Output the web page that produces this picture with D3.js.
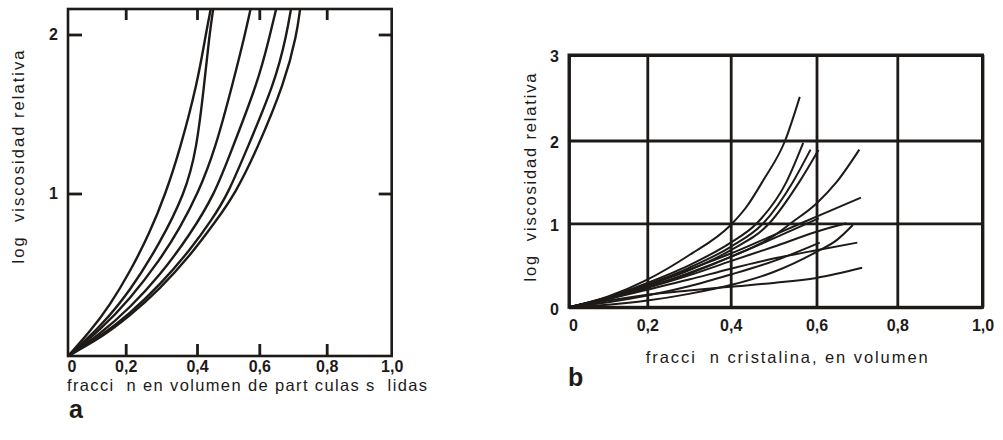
<!DOCTYPE html>
<html>
<head>
<meta charset="utf-8">
<script src="https://cdn.jsdelivr.net/npm/d3@7"></script>
<style>
  html, body { margin: 0; padding: 0; background: #fff; }
  svg { display: block; font-family: "Liberation Sans", Arial, sans-serif; }
  text { white-space: pre; fill: #1d1a18; }
</style>
</head>
<body>
<svg id="chart" width="1003" height="440"></svg>
<script>
// ---- panel a: relative viscosity vs solid particle volume fraction ----
const tickValuesA = [0, 0.2, 0.4, 0.6, 0.8, 1.0];
const yTicksA = [1, 2];
const xTitleA = "fracci  n en volumen de part culas s  lidas";
const yTitle = "log  viscosidad relativa";
const curvesA = [
  [[0,0],[0.076,0.149],[0.146,0.315],[0.212,0.518],[0.268,0.760],[0.312,1.0],[0.352,1.274],[0.402,1.701],[0.428,2.0],[0.444,2.16]],
  [[0,0],[0.111,0.177],[0.212,0.399],[0.296,0.694],[0.366,1.0],[0.399,1.274],[0.424,1.701],[0.440,2.0],[0.452,2.16]],
  [[0,0],[0.111,0.158],[0.212,0.351],[0.296,0.591],[0.352,0.788],[0.403,1.0],[0.458,1.274],[0.516,1.701],[0.554,2.0],[0.572,2.16]],
  [[0,0],[0.111,0.134],[0.212,0.297],[0.296,0.496],[0.380,0.745],[0.458,1.0],[0.511,1.274],[0.596,1.701],[0.632,2.0],[0.650,2.16]],
  [[0,0],[0.111,0.118],[0.212,0.262],[0.296,0.438],[0.380,0.650],[0.448,0.839],[0.500,1.0],[0.559,1.274],[0.647,1.701],[0.681,2.0],[0.694,2.16]],
  [[0,0],[0.111,0.108],[0.212,0.247],[0.296,0.413],[0.380,0.616],[0.458,0.823],[0.523,1.0],[0.592,1.274],[0.676,1.701],[0.711,2.0],[0.721,2.16]]
];

// ---- panel b: relative viscosity vs crystal volume fraction ----
const tickValuesB = [0, 0.2, 0.4, 0.6, 0.8, 1.0];
const yTicksB = [0, 1, 2, 3];
const xTitleB = "fracci  n cristalina, en volumen";
const curvesB = [
  [[0,0],[0.1,0.13],[0.2,0.33],[0.3,0.62],[0.4,0.98],[0.437,1.2],[0.476,1.52],[0.527,2.0],[0.561,2.51]],
  [[0,0],[0.1,0.12],[0.2,0.29],[0.3,0.5],[0.4,0.77],[0.461,1.0],[0.53,1.5],[0.569,1.97]],
  [[0,0],[0.1,0.11],[0.2,0.27],[0.3,0.47],[0.4,0.72],[0.476,1.0],[0.545,1.5],[0.586,1.89]],
  [[0,0],[0.1,0.11],[0.2,0.26],[0.3,0.44],[0.4,0.68],[0.49,1.0],[0.56,1.5],[0.605,1.885]],
  [[0,0],[0.1,0.1],[0.2,0.24],[0.3,0.4],[0.4,0.6],[0.5,0.85],[0.54,1.0],[0.6,1.24],[0.65,1.5],[0.706,1.89]],
  [[0,0],[0.1,0.12],[0.2,0.27],[0.3,0.45],[0.4,0.64],[0.5,0.86],[0.6,1.08],[0.71,1.31]],
  [[0,0],[0.1,0.03],[0.2,0.08],[0.3,0.16],[0.4,0.265],[0.5,0.42],[0.6,0.66],[0.65,0.8],[0.69,0.98]],
  [[0,0],[0.1,0.1],[0.2,0.21],[0.3,0.33],[0.4,0.46],[0.5,0.58],[0.6,0.68],[0.701,0.77]],
  [[0,0],[0.1,0.08],[0.2,0.15],[0.3,0.2],[0.4,0.245],[0.5,0.29],[0.6,0.35],[0.713,0.47]],
  [[0,0],[0.1,0.06],[0.2,0.14],[0.3,0.25],[0.4,0.39],[0.5,0.55],[0.608,0.77]],
  [[0,0],[0.1,0.11],[0.2,0.24],[0.3,0.41],[0.4,0.6],[0.5,0.82],[0.606,1.06]],
  [[0,0],[0.1,0.1],[0.2,0.23],[0.3,0.38],[0.4,0.55],[0.5,0.72],[0.6,0.9],[0.674,1.0]]
];

const ink = "#1d1a18";
const fmt = d => d.toFixed(1).replace(".", ",").replace(/^0,0$/, "0");
const svg = d3.select("#chart");

// ===== panel a =====
// hand-ruled axis: tick spacing is slightly uneven, so the scales are piecewise
const xa = d3.scaleLinear().domain(tickValuesA).range([68, 125.7, 197, 259.3, 326.7, 391.7]);
const ya = d3.scaleLinear().domain([0, 1, 2]).range([356, 193.5, 34.5]);
const topA = 9;
const gA = svg.append("g");

gA.append("clipPath").attr("id", "clipA")
  .append("rect").attr("x", xa(0)).attr("y", topA)
  .attr("width", xa(1) - xa(0)).attr("height", ya(0) - topA);

const lineA = d3.line().x(d => xa(d[0])).y(d => ya(d[1])).curve(d3.curveBasis);
gA.append("g").attr("clip-path", "url(#clipA)")
  .selectAll("path").data(curvesA).join("path")
  .attr("d", lineA).attr("fill", "none").attr("stroke", ink).attr("stroke-width", 2.4);

// inward ticks on all four sides
const inner = [0.2, 0.4, 0.6, 0.8];
const axBottomA = gA.append("g").attr("transform", `translate(0,${ya(0)})`)
  .call(d3.axisBottom(xa).tickValues(tickValuesA).tickSize(-12).tickPadding(5).tickFormat(fmt));
axBottomA.selectAll(".tick line").attr("display", d => inner.includes(d) ? null : "none");
gA.append("g").attr("transform", `translate(0,${topA})`)
  .call(d3.axisTop(xa).tickValues(inner).tickSize(-11).tickFormat(""));
gA.append("g").attr("transform", `translate(${xa(0)},0)`)
  .call(d3.axisLeft(ya).tickValues(yTicksA).tickSize(-14).tickPadding(10).tickFormat(d3.format("d")));
gA.append("g").attr("transform", `translate(${xa(1)},0)`)
  .call(d3.axisRight(ya).tickValues(yTicksA).tickSize(-13).tickFormat(""));

gA.append("rect").attr("x", xa(0)).attr("y", topA)
  .attr("width", xa(1) - xa(0)).attr("height", ya(0) - topA)
  .attr("fill", "none").attr("stroke", ink).attr("stroke-width", 2.6);

gA.append("text").attr("x", 67).attr("y", 390.5)
  .attr("font-size", 16.5).attr("textLength", 360).attr("lengthAdjust", "spacing")
  .text(xTitleA);
gA.append("text").attr("transform", "translate(24,157) rotate(-90)")
  .attr("text-anchor", "middle").attr("font-size", 16.5)
  .attr("textLength", 213).attr("lengthAdjust", "spacing").text(yTitle);
gA.append("text").attr("x", 69).attr("y", 418)
  .attr("font-size", 25).attr("font-weight", "bold").text("a");

// ===== panel b =====
const xb = d3.scaleLinear().domain(tickValuesB).range([569, 647.3, 730.7, 816.5, 897.3, 982.5]);
const yb = d3.scaleLinear().domain(yTicksB).range([307.3, 223.3, 140.5, 55]);
const gB = svg.append("g");

// full-height / full-width grid drawn as axis ticks
const axBottomB = gB.append("g").attr("transform", `translate(0,${yb(0)})`)
  .call(d3.axisBottom(xb).tickValues(tickValuesB).tickSize(-(yb(0) - yb(3))).tickPadding(12).tickFormat(fmt));
const axLeftB = gB.append("g").attr("transform", `translate(${xb(0)},0)`)
  .call(d3.axisLeft(yb).tickValues(yTicksB).tickSize(-(xb(1) - xb(0))).tickPadding(10).tickFormat(d3.format("d")));

gB.append("rect").attr("x", xb(0)).attr("y", yb(3))
  .attr("width", xb(1) - xb(0)).attr("height", yb(0) - yb(3))
  .attr("fill", "none").attr("stroke", ink).attr("stroke-width", 3);

const lineB = d3.line().x(d => xb(d[0])).y(d => yb(d[1])).curve(d3.curveMonotoneX);
gB.append("g").selectAll("path").data(curvesB).join("path")
  .attr("d", lineB).attr("fill", "none").attr("stroke", ink).attr("stroke-width", 2);

gB.append("text").attr("x", 645.7).attr("y", 363)
  .attr("font-size", 16.5).attr("textLength", 282).attr("lengthAdjust", "spacing")
  .text(xTitleB);
gB.append("text").attr("transform", "translate(535.5,177.5) rotate(-90)")
  .attr("text-anchor", "middle").attr("font-size", 16.5)
  .attr("textLength", 208).attr("lengthAdjust", "spacing").text(yTitle);
gB.append("text").attr("x", 568).attr("y", 386)
  .attr("font-size", 25).attr("font-weight", "bold").text("b");

// shared axis styling
svg.selectAll(".domain").remove();
svg.selectAll(".tick line").attr("stroke", ink).attr("stroke-width", 2.8);
svg.selectAll(".tick text").attr("fill", ink).attr("font-size", 16).attr("font-weight", "bold")
  .attr("font-family", "'Liberation Sans', Arial, sans-serif");
// the "0" labels sit just right of the origin
axBottomA.selectAll(".tick text").filter(d => d === 0).attr("dx", 3.5);
axBottomB.selectAll(".tick text").filter(d => d === 0).attr("dx", 4);
axLeftB.selectAll(".tick text").attr("dy", "0.42em");
</script>
</body>
</html>
